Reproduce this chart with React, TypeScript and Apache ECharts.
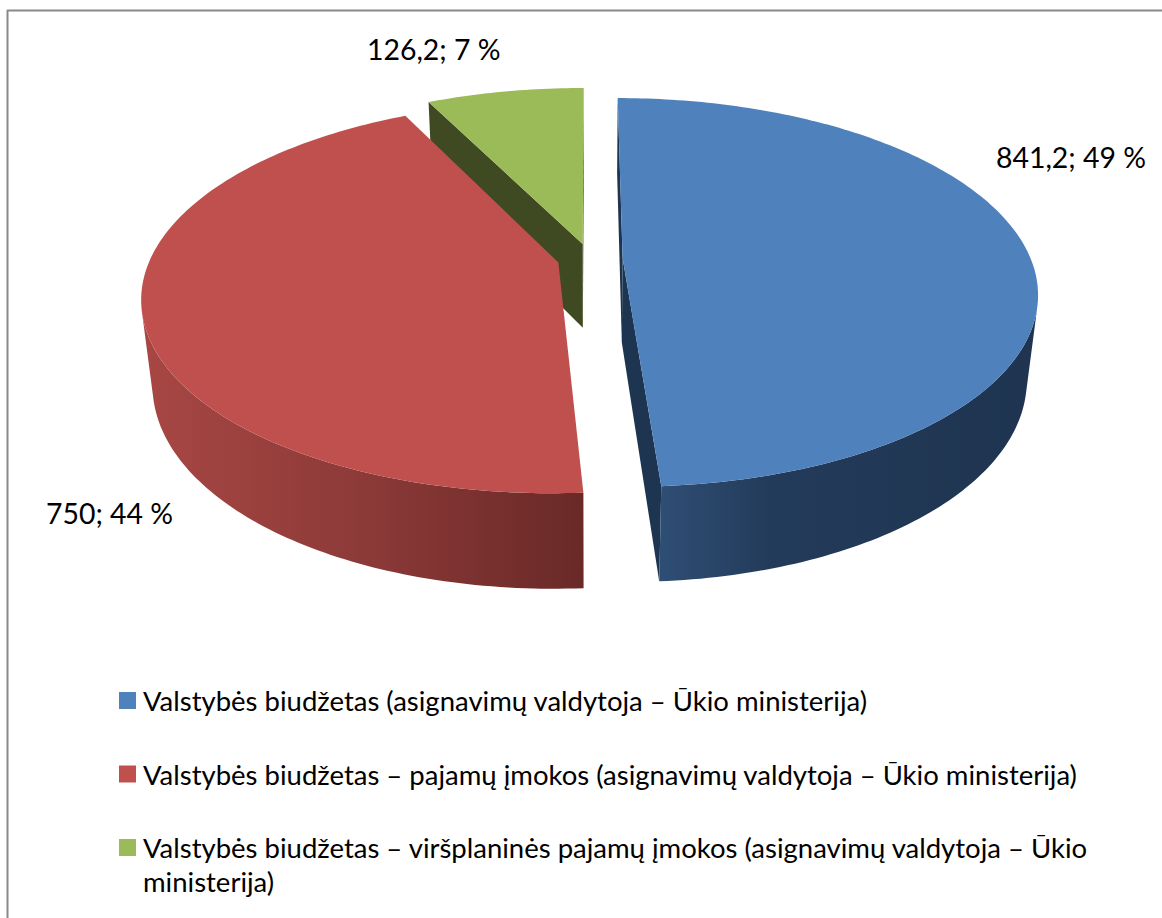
import React, { useEffect, useRef } from "react";
import * as echarts from "echarts";

const sliceNames = [
  "Valstybės biudžetas (asignavimų valdytoja – Ūkio ministerija)",
  "Valstybės biudžetas – pajamų įmokos (asignavimų valdytoja – Ūkio ministerija)",
  "Valstybės biudžetas – viršplaninės pajamų įmokos (asignavimų valdytoja – Ūkio\nministerija)",
];
const sliceValues = [841.2, 750, 126.2];
const topColors = ["#4F81BD", "#C0504D", "#9BBB59"];
const faceColors = ["#1E3551", "#6A2A28", "#3F4A22"];
const labelAnchors = [
  [996, 157],
  [46, 513],
  [367, 49],
];
const wallStops = [
  [[0, "#2F4E74"], [0.3, "#233B5A"], [1, "#1E3450"]],
  [[0, "#A84744"], [0.5, "#8C3A38"], [1, "#692927"]],
  [[0, "#3F4A22"], [1, "#3F4A22"]],
];

const FONT = "Lato";
const LEGEND_FONT_SIZE = 27.5;
const LABEL_FONT_SIZE = 28.4;
const CX = 590, CY = 258.5, RX = 408, RY = 188.4, PERSP = 0.177, DEPTH = 86.5, DEPTH_PERSP = 0.025, EXPLODE = 0.08;
const total = sliceValues.reduce((a, b) => a + b, 0);

function project(X: number, Y: number, D: number) {
  const w = 1 - PERSP * Y + DEPTH_PERSP * D;
  return [CX + (RX * X) / w, CY + (RY * Y + DEPTH * D) / w];
}

function area(pts: number[][]) {
  let s = 0;
  for (let i = 0; i < pts.length; i++) {
    const a = pts[i], b = pts[(i + 1) % pts.length];
    s += a[0] * b[1] - b[0] * a[1];
  }
  return s;
}

function sliceAngles(index: number) {
  const before = sliceValues.slice(0, index).reduce((a, b) => a + b, 0);
  return [(before / total) * 2 * Math.PI, ((before + sliceValues[index]) / total) * 2 * Math.PI];
}

function labelText(index: number) {
  const v = String(sliceValues[index]).replace(".", ",");
  return `${v}; ${Math.round((sliceValues[index] / total) * 100)} %`;
}

function renderSlice(index: number) {
  const [t0, t1] = sliceAngles(index);
  const mid = (t0 + t1) / 2;
  const ox = EXPLODE * Math.sin(mid), oy = -EXPLODE * Math.cos(mid);
  const rim = (t: number, d: number) => project(ox + Math.sin(t), oy - Math.cos(t), d);
  const steps = Math.max(2, Math.ceil(((t1 - t0) * 180) / Math.PI));
  const angles: number[] = [];
  for (let i = 0; i <= steps; i++) angles.push(t0 + ((t1 - t0) * i) / steps);

  const apexTop = project(ox, oy, 0), apexBot = project(ox, oy, 1);
  const children: any[] = [];
  const poly = (points: number[][], fill: any) => ({
    type: "polygon",
    shape: { points },
    style: { fill, stroke: "none" },
  });

  const startFace = [apexTop, rim(t0, 0), rim(t0, 1), apexBot];
  if (area(startFace) < 0) children.push(poly(startFace, faceColors[index]));
  const endFace = [apexTop, rim(t1, 0), rim(t1, 1), apexBot];
  if (area(endFace) > 0) children.push(poly(endFace, faceColors[index]));

  const visible = angles.filter((t, i) => {
    const n = angles[i + 1];
    const p = angles[i - 1];
    const front = (a: number, b: number) =>
      area([rim(a, 0), rim(b, 0), rim(b, 1), rim(a, 1)]) < 0;
    return (n !== undefined && front(t, n)) || (p !== undefined && front(p, t));
  });
  if (visible.length > 1) {
    const wall = [...visible.map((t) => rim(t, 0)), ...visible.slice().reverse().map((t) => rim(t, 1))];
    const xs = wall.map((p) => p[0]);
    const minX = Math.min(...xs), maxX = Math.max(...xs);
    const raw = wallStops[index];
    const grad = new echarts.graphic.LinearGradient(
      minX, 0, maxX, 0,
      raw.map(([offset, color]) => ({ offset: offset as number, color: color as string })),
      true
    );
    children.push(poly(wall, grad));
  }

  const top = [apexTop, ...angles.map((t) => rim(t, 0))];
  children.push(poly(top, topColors[index]));

  children.push({
    type: "text",
    x: labelAnchors[index][0],
    y: labelAnchors[index][1],
    style: {
      text: labelText(index),
      fill: "#000",
      fontFamily: FONT,
      fontSize: LABEL_FONT_SIZE,
      textAlign: "left",
      textVerticalAlign: "middle",
    },
  });
  return { type: "group", children };
}

export default function App() {
  const ref = useRef<HTMLDivElement>(null);
  useEffect(() => {
    const chart = echarts.init(ref.current!, undefined, { renderer: "svg" });
    chart.setOption({
      animation: false,
      backgroundColor: "#fff",
      legend: {
        orient: "vertical",
        left: 119,
        top: 681,
        padding: 0,
        itemWidth: 17,
        itemHeight: 17,
        itemGap: 34.5,
        icon: "rect",
        selectedMode: false,
        data: sliceNames,
        formatter: (name: string) => name.split("\n")[0],
        textStyle: { fontFamily: FONT, fontSize: LEGEND_FONT_SIZE, color: "#000", lineHeight: 35, padding: [0, 0, 4, 2] },
      },
      graphic: [
        { type: "line", shape: { x1: 7.5, y1: 10, x2: 7.5, y2: 918 }, style: { stroke: "#898989", lineWidth: 2 } },
        { type: "line", shape: { x1: 7, y1: 10.5, x2: 1162, y2: 10.5 }, style: { stroke: "#898989", lineWidth: 2 } },
        {
          type: "text",
          x: 143,
          y: 881,
          style: {
            text: sliceNames[2].split("\n")[1],
            fill: "#000",
            fontFamily: FONT,
            fontSize: LEGEND_FONT_SIZE,
            textVerticalAlign: "middle",
          },
        },
      ],
      series: sliceNames.map((name, index) => ({
        type: "custom",
        name,
        coordinateSystem: "none",
        z: 3 - index + (index === 0 ? 2 : 0),
        itemStyle: { color: topColors[index] },
        data: [sliceValues[index]],
        renderItem: () => renderSlice(index),
      })),
    });
    return () => chart.dispose();
  }, []);
  return <div ref={ref} style={{ position: "fixed", left: 0, top: 0, width: 1162, height: 918 }} />;
}
